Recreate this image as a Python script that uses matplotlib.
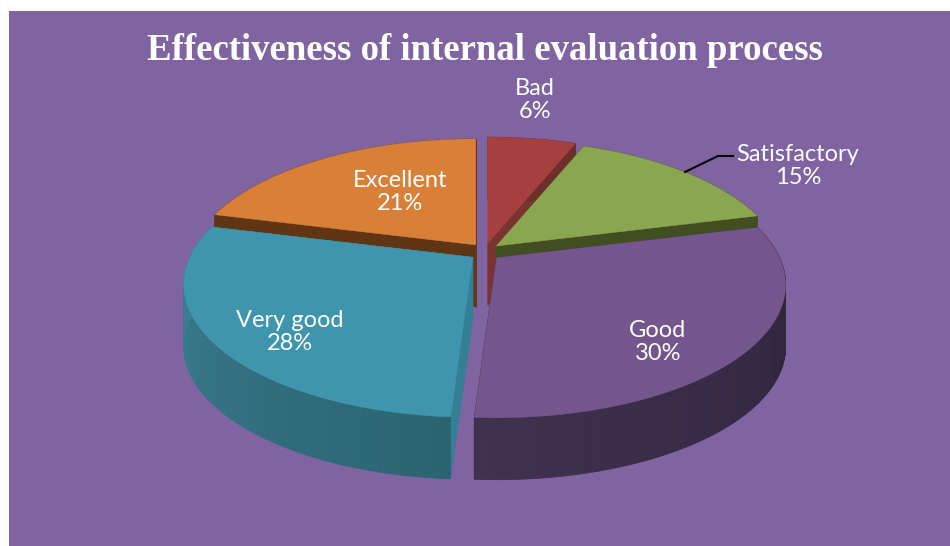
import numpy as np
import matplotlib
matplotlib.use('Agg')
import matplotlib.pyplot as plt
from matplotlib.colors import to_rgb
from matplotlib.patches import Polygon, Rectangle

# %% Data
categories = ['Bad', 'Satisfactory', 'Good', 'Very good', 'Excellent']
values = [6, 15, 30, 28, 21]
title = 'Effectiveness of internal evaluation process'

# %% Style
bg_color = '#8063A1'
top_colors = ['#A5403F', '#8BA650', '#74568C', '#4095AE', '#D88038']
wall_colors = ['#7A3330', '#414F20', '#3A2C48', '#347F95', '#5F3514']
# side colour at start and end of each slice (clockwise)
side_colors = [('#6E2E2B', '#6E2E2B'), ('#414F20', '#414F20'), ('#2A2137', '#41314F'),
               ('#2A6470', '#3D8298'), ('#5F3514', '#5F3514')]
label_xy = [(535, 100), (798, 166), (658, 342), (290, 332), (400, 192)]

cx, cy = 485, 252
rx, a, k = 283, 127.5, 0.203
explode = 15
depth = 62
draw_order = [4, 0, 1, 3, 2]


def project(theta, r=1.0):
    # circle point to screen, back of the pie is squeezed by perspective
    X = r * np.sin(theta)
    Y = r * np.cos(theta)
    w = 1 + k * Y
    return rx * X / w, -a * Y / w


def draw_slice(ax, i, t0, t1):
    mid = (t0 + t1) / 2
    ox = cx + explode * np.sin(mid)
    oy = cy - 0.6 * explode * np.cos(mid)
    ts = np.linspace(t0, t1, int(np.degrees(t1 - t0)) * 2 + 2)
    px, py = project(ts)
    px, py = px + ox, py + oy

    # radial walls
    for j in (0, -1):
        wall = [(ox, oy), (px[j], py[j]), (px[j], py[j] + depth), (ox, oy + depth)]
        ax.add_patch(Polygon(wall, closed=True, fc=wall_colors[i], ec=wall_colors[i], lw=0.5))

    # outer side, shaded along the arc
    c0, c1 = np.array(to_rgb(side_colors[i][0])), np.array(to_rgb(side_colors[i][1]))
    for j in range(len(ts) - 1):
        f = j / (len(ts) - 2)
        c = c0 + (c1 - c0) * f
        quad = [(px[j], py[j]), (px[j + 1], py[j + 1]),
                (px[j + 1], py[j + 1] + depth), (px[j], py[j] + depth)]
        ax.add_patch(Polygon(quad, closed=True, fc=c, ec=c, lw=0.5))

    # top face
    top = np.column_stack([np.r_[ox, px], np.r_[oy, py]])
    ax.add_patch(Polygon(top, closed=True, fc=top_colors[i], ec=top_colors[i], lw=0.3))


# %% Plot
fig = plt.figure(figsize=(9.5, 5.46), dpi=100)
ax = fig.add_axes([0, 0, 1, 1])
ax.set_xlim(0, 950)
ax.set_ylim(546, 0)
ax.axis('off')
ax.add_patch(Rectangle((9, 11), 941, 535, fc=bg_color, ec='none'))

edges = np.r_[0, np.cumsum(values)] / np.sum(values) * 2 * np.pi
for i in draw_order:
    draw_slice(ax, i, edges[i], edges[i + 1])

ax.plot([685, 718, 733], [172, 156, 156], color='black', lw=1.5)

ax.text(485, 50, title, color='white', fontsize=26.5, fontweight='bold',
        family='Liberation Serif', ha='center', va='center')
for name, val, (x, y) in zip(categories, values, label_xy):
    ax.text(x, y, f'{name}\n{val}%', color='white', fontsize=17, family='Lato',
            ha='center', va='center', linespacing=1.15)

fig.savefig('out.png', dpi=100)
